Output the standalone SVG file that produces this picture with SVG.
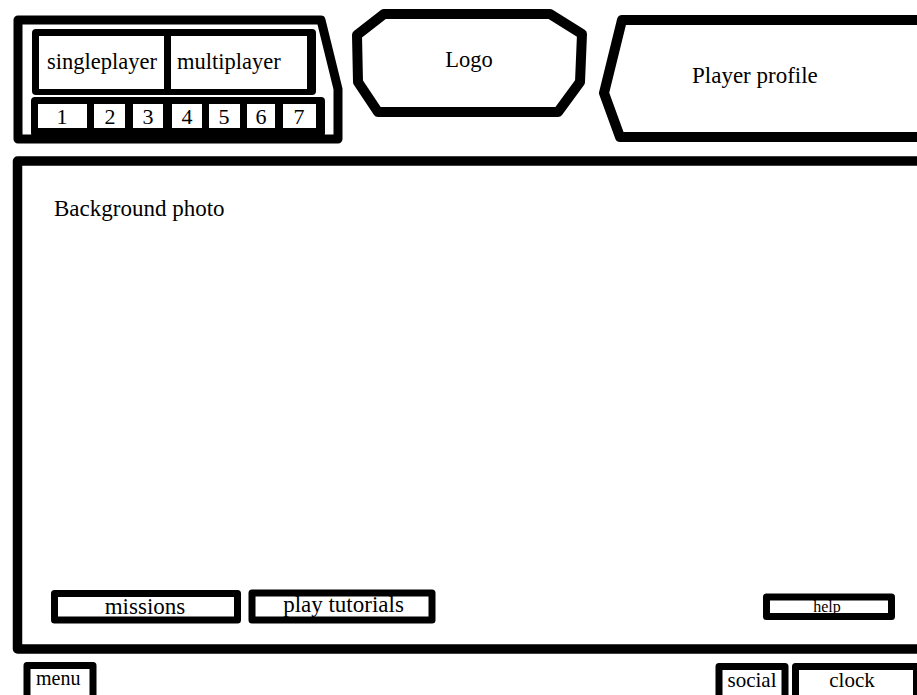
<svg xmlns="http://www.w3.org/2000/svg" width="917" height="695" viewBox="0 0 917 695" font-family="'Liberation Serif', 'DejaVu Serif', serif">
<style>
.frame{fill:#fff;stroke:#000;stroke-width:9;stroke-linejoin:round}
.btn{fill:#fff;stroke:#000;stroke-width:7;stroke-linejoin:round}
.blk{fill:#000}
.cell{fill:#fff}
text{font-family:'Liberation Serif','DejaVu Serif',serif;fill:#000}
.c{text-anchor:middle}
</style>
<rect width="917" height="695" fill="#fff"/>
<g id="mode-panel">
<polygon class="frame" points="18,20 321,20 338,89 338,139 18,139"/>
<rect class="blk" x="32" y="29" width="284" height="66" rx="4"/>
<rect class="cell" x="39" y="36" width="125" height="53"/>
<rect class="cell" x="171" y="36" width="136" height="53"/>
<text x="47" y="69" font-size="22.5" font-family="Liberation Serif">singleplayer</text>
<text x="177" y="69" font-size="22.5" font-family="Liberation Serif">multiplayer</text>
<rect class="blk" x="31" y="97" width="294" height="40" rx="4"/>
<rect class="cell" x="38" y="104" width="49" height="24"/>
<rect class="cell" x="94" y="104" width="31" height="24"/>
<rect class="cell" x="133" y="104" width="30" height="24"/>
<rect class="cell" x="172" y="104" width="30" height="24"/>
<rect class="cell" x="209" y="104" width="31" height="24"/>
<rect class="cell" x="247" y="104" width="28" height="24"/>
<rect class="cell" x="283" y="104" width="33" height="24"/>
<g font-size="22" font-family="Liberation Serif">
<text class="c" x="62" y="124">1</text>
<text class="c" x="110" y="124">2</text>
<text class="c" x="148" y="124">3</text>
<text class="c" x="187" y="124">4</text>
<text class="c" x="224" y="124">5</text>
<text class="c" x="261" y="124">6</text>
<text class="c" x="299" y="124">7</text>
</g>
</g>
<g id="logo">
<polygon class="frame" style="stroke-width:10" points="384,14 550,14 582,34 580,82 558,112 378,112 358,82 357,35"/>
<text class="c" x="469" y="67" font-size="22.5" font-family="Liberation Serif">Logo</text>
</g>
<g id="player-profile">
<polygon class="frame" style="stroke-width:10" points="930,20 622,20 604,93 620,137 930,137"/>
<text x="692" y="83" font-size="23" font-family="Liberation Serif">Player profile</text>
</g>
<g id="background">
<rect class="frame" style="stroke-width:9.5" x="17.5" y="161" width="920" height="488"/>
<text x="54" y="216" font-size="23" font-family="Liberation Serif">Background photo</text>
</g>
<g id="missions">
<rect class="btn" x="54.5" y="593.5" width="183" height="26.5"/>
<text class="c" x="145" y="614" font-size="23" font-family="Liberation Serif">missions</text>
</g>
<g id="play-tutorials">
<rect class="btn" x="252" y="593" width="180" height="27"/>
<text class="c" x="343.5" y="612" font-size="23" font-family="Liberation Serif">play tutorials</text>
</g>
<g id="help">
<rect class="btn" x="766.5" y="597" width="125" height="19.5"/>
<text class="c" x="827" y="612" font-size="16" font-family="Liberation Serif">help</text>
</g>
<g id="menu">
<rect class="btn" x="27" y="665.5" width="66" height="40"/>
<text x="36" y="685" font-size="20" font-family="Liberation Serif">menu</text>
</g>
<g id="social">
<rect class="btn" x="719" y="666.5" width="66" height="40"/>
<text class="c" x="752" y="687" font-size="21" font-family="Liberation Serif">social</text>
</g>
<g id="clock">
<rect class="btn" x="795.5" y="666.5" width="121" height="40"/>
<text class="c" x="852" y="687" font-size="21" font-family="Liberation Serif">clock</text>
</g>
<g id="connectors"></g>
</svg>
